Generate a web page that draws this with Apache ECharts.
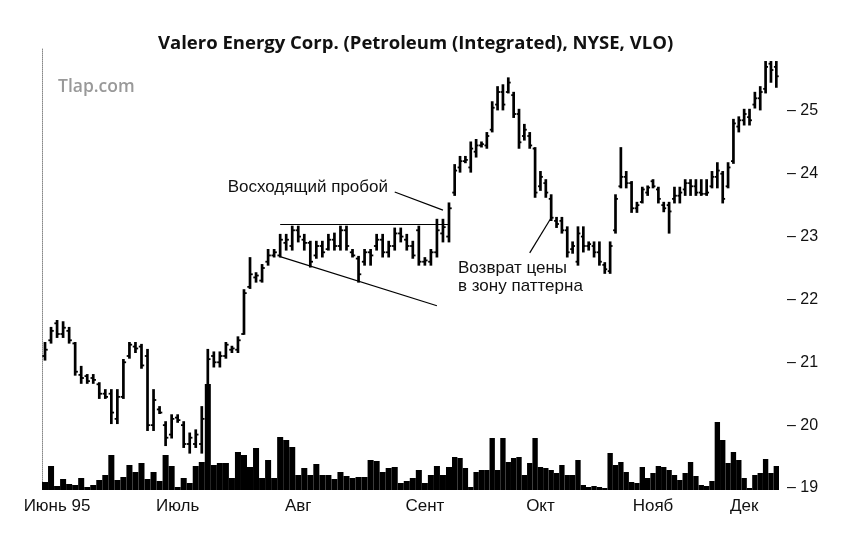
<!DOCTYPE html>
<html>
<head>
<meta charset="utf-8">
<title>Valero Energy Corp.</title>
<script src="https://cdn.jsdelivr.net/npm/echarts@6/dist/echarts.min.js"></script>
<style>
  html, body { margin: 0; padding: 0; background: #fff; }
  #chart { width: 862px; height: 534px; }
</style>
</head>
<body>
<div id="chart"></div>
<script>
// daily bars, June 1995 .. mid December 1995
var highs = [
  21.31, 21.55, 21.66, 21.64, 21.55, 21.31, 20.93, 20.80, 20.80, 20.67,
  20.56, 20.56, 20.56, 21.04, 21.31, 21.31, 21.28, 21.20, 20.56, 20.29,
  20.05, 20.16, 20.16, 20.05, 19.87, 19.92, 20.29, 21.20, 21.16, 21.16,
  21.31, 21.25, 21.40, 22.15, 22.66, 22.42, 22.55, 22.79, 22.79, 23.03,
  23.03, 23.16, 23.16, 23.03, 22.92, 22.92, 22.92, 23.03, 23.05, 23.16,
  23.16, 22.79, 22.68, 22.79, 22.79, 23.03, 23.03, 22.92, 23.13, 23.13,
  23.03, 22.92, 23.16, 22.66, 22.79, 23.27, 23.27, 23.53, 24.14, 24.27,
  24.27, 24.50, 24.54, 24.50, 24.65, 25.14, 25.38, 25.41, 25.52, 25.29,
  25.02, 24.78, 24.65, 24.41, 24.03, 23.90, 23.66, 23.30, 23.30, 23.15,
  22.91, 23.15, 23.15, 22.91, 22.91, 22.91, 22.58, 22.91, 23.66, 24.41,
  24.03, 23.87, 23.54, 23.78, 23.80, 23.90, 23.78, 23.54, 23.54, 23.78,
  23.78, 23.90, 23.90, 23.90, 23.90, 23.90, 24.03, 24.17, 24.03, 24.17,
  24.86, 24.90, 25.02, 25.02, 25.29, 25.38, 25.78, 25.78, 25.78
];
var lows = [
  21.04, 21.31, 21.40, 21.40, 21.31, 20.80, 20.67, 20.67, 20.67, 20.43,
  20.43, 20.03, 20.03, 20.43, 21.07, 21.16, 20.91, 19.92, 19.92, 20.19,
  19.68, 19.80, 20.05, 19.65, 19.56, 19.65, 19.56, 19.60, 20.93, 20.93,
  21.07, 21.16, 21.16, 21.45, 22.18, 22.28, 22.28, 22.55, 22.68, 22.68,
  22.79, 22.79, 22.92, 22.79, 22.52, 22.66, 22.68, 22.79, 22.79, 22.79,
  22.79, 22.68, 22.28, 22.55, 22.55, 22.79, 22.68, 22.68, 22.79, 22.92,
  22.79, 22.66, 22.55, 22.55, 22.55, 22.68, 22.92, 22.92, 23.66, 24.03,
  24.18, 24.03, 24.27, 24.43, 24.41, 24.67, 25.02, 25.02, 25.29, 24.90,
  24.41, 24.54, 24.41, 23.63, 23.74, 23.63, 23.26, 23.15, 23.06, 22.68,
  22.74, 22.55, 22.76, 22.79, 22.68, 22.55, 22.42, 22.42, 23.06, 23.78,
  23.78, 23.39, 23.39, 23.54, 23.66, 23.78, 23.54, 23.40, 23.06, 23.54,
  23.54, 23.66, 23.66, 23.66, 23.66, 23.66, 23.78, 23.78, 23.54, 23.78,
  24.17, 24.67, 24.78, 24.78, 25.05, 25.02, 25.29, 25.46, 25.38
];
var opens = [
  21.10, 21.35, 21.62, 21.45, 21.50, 21.30, 20.80, 20.78, 20.75, 20.65,
  20.50, 20.50, 20.10, 20.45, 21.10, 21.25, 21.25, 21.10, 20.00, 20.25,
  20.00, 19.85, 20.12, 20.00, 19.70, 19.70, 19.70, 19.80, 21.10, 21.00,
  21.10, 21.20, 21.20, 21.45, 22.20, 22.35, 22.30, 22.60, 22.70, 22.70,
  22.90, 22.85, 23.10, 22.95, 22.90, 22.70, 22.85, 22.80, 22.95, 22.85,
  23.10, 22.75, 22.65, 22.60, 22.75, 22.85, 22.95, 22.75, 22.85, 23.05,
  22.95, 22.85, 23.10, 22.60, 22.60, 22.75, 23.05, 23.00, 23.70, 24.10,
  24.20, 24.10, 24.35, 24.45, 24.45, 24.70, 25.10, 25.30, 25.30, 25.25,
  24.95, 24.60, 24.60, 24.40, 23.80, 23.85, 23.60, 23.25, 23.25, 23.10,
  22.80, 22.60, 23.00, 22.85, 22.85, 22.75, 22.55, 22.45, 23.10, 23.80,
  23.95, 23.85, 23.45, 23.55, 23.70, 23.88, 23.75, 23.50, 23.50, 23.60,
  23.65, 23.75, 23.85, 23.80, 23.70, 23.68, 23.80, 23.95, 24.00, 23.80,
  24.20, 24.75, 24.85, 24.90, 25.10, 25.20, 25.35, 25.75, 25.70
];
var closes = [
  21.20, 21.50, 21.45, 21.55, 21.35, 20.85, 20.75, 20.70, 20.72, 20.50,
  20.45, 20.20, 20.45, 21.00, 21.28, 21.22, 20.95, 20.00, 20.40, 20.20,
  19.80, 20.10, 20.08, 19.70, 19.80, 19.85, 20.10, 21.05, 21.00, 21.10,
  21.28, 21.22, 21.35, 22.10, 22.40, 22.38, 22.50, 22.70, 22.75, 22.95,
  22.95, 23.10, 23.00, 22.90, 22.60, 22.85, 22.75, 22.95, 22.85, 23.10,
  22.85, 22.70, 22.40, 22.75, 22.70, 22.95, 22.75, 22.85, 23.05, 23.00,
  22.85, 22.70, 22.60, 22.62, 22.75, 23.10, 23.15, 23.45, 24.05, 24.20,
  24.22, 24.40, 24.45, 24.47, 24.60, 25.05, 25.30, 25.10, 25.45, 24.95,
  24.50, 24.70, 24.45, 23.70, 23.95, 23.70, 23.30, 23.20, 23.10, 22.75,
  22.85, 23.05, 22.85, 22.88, 22.75, 22.60, 22.48, 22.85, 23.60, 23.95,
  23.85, 23.45, 23.50, 23.75, 23.78, 23.80, 23.60, 23.45, 23.40, 23.65,
  23.70, 23.85, 23.80, 23.70, 23.68, 23.70, 23.95, 24.05, 23.60, 24.10,
  24.80, 24.85, 24.95, 24.85, 25.20, 25.30, 25.70, 25.65, 25.55
];
// volume, relative units
var volumes = [
  8, 24, 4, 11, 6, 5, 12, 3, 5, 10,
  15, 35, 10, 13, 25, 18, 27, 11, 18, 9,
  35, 24, 3, 12, 7, 24, 28, 106, 25, 27,
  27, 12, 38, 35, 23, 42, 12, 30, 12, 53,
  50, 43, 15, 22, 15, 26, 15, 15, 11, 18,
  14, 12, 13, 13, 30, 29, 18, 22, 23, 7,
  9, 12, 20, 7, 15, 24, 15, 23, 33, 32,
  22, 3, 18, 20, 20, 52, 20, 52, 28, 32,
  33, 15, 27, 52, 23, 22, 20, 17, 25, 15,
  15, 30, 5, 3, 4, 3, 2, 37, 25, 28,
  18, 8, 7, 23, 12, 17, 24, 23, 20, 15,
  10, 17, 28, 14, 5, 4, 9, 68, 50, 27,
  38, 30, 12, 2, 15, 17, 31, 17, 24
];
var monthLabels = { 2: 'Июнь 95', 22: 'Июль', 42: 'Авг', 63: 'Сент', 84: 'Окт', 105: 'Нояб', 122: 'Дек' };
var priceTicks = [19, 20, 21, 22, 23, 24, 25];

// the source picture squeezes the bars after the breakout, so it is drawn on two axes
var split = 68;

var days = highs.map(function (v, i) { return String(i); });
var ohlc = highs.map(function (h, i) { return [String(i), opens[i], closes[i], lows[i], h]; });

var FONT = 'Liberation Sans, Arial, sans-serif';

function ohlcBar(params, api) {
  var x = api.value(0);
  var o = api.coord([x, api.value(1)]);
  var c = api.coord([x, api.value(2)]);
  var l = api.coord([x, api.value(3)]);
  var h = api.coord([x, api.value(4)]);
  var w = api.size([1, 0])[0] * 0.45;
  return {
    type: 'group',
    children: [
      { type: 'line', shape: { x1: h[0], y1: h[1] - 0.8, x2: l[0], y2: l[1] + 0.8 },
        style: { stroke: '#000', lineWidth: 2.7 } },
      { type: 'line', shape: { x1: o[0] - w, y1: o[1], x2: o[0], y2: o[1] },
        style: { stroke: '#000', lineWidth: 1.8 } },
      { type: 'line', shape: { x1: c[0], y1: c[1], x2: c[0] + w, y2: c[1] },
        style: { stroke: '#000', lineWidth: 1.8 } }
    ]
  };
}

function monthAxis(cats) {
  return {
    type: 'category', data: cats, boundaryGap: true,
    axisLine: { show: false }, axisTick: { show: false }, splitLine: { show: false },
    axisLabel: {
      interval: function (i, v) { return monthLabels[v] != null; },
      formatter: function (v) { return monthLabels[v] || ''; },
      margin: 8, fontSize: 17, color: '#111', fontFamily: FONT
    }
  };
}

function hiddenCat(cats) {
  return { type: 'category', data: cats, boundaryGap: true, show: false };
}

var lineStyle = { color: '#000', width: 1.2, type: 'solid' };
function seg(a, b) { return [{ coord: a }, { coord: b }]; }

var chart = echarts.init(document.getElementById('chart'));
chart.setOption({
  animation: false,
  backgroundColor: '#fff',
  title: {
    text: 'Valero Energy Corp. (Petroleum (Integrated), NYSE, VLO)',
    left: 153, top: 29,
    textStyle: { fontSize: 18.5, fontWeight: 'bold', color: '#111', fontFamily: 'Open Sans' }
  },
  grid: [
    { left: 42, width: 410, top: 48, height: 440 },
    { left: 452, width: 327, top: 48, height: 440 },
    { left: 42, width: 410, top: 380, height: 110 },
    { left: 452, width: 327, top: 380, height: 110 }
  ],
  xAxis: [
    hiddenCat(days.slice(0, split)),
    Object.assign(hiddenCat(days.slice(split)), { gridIndex: 1 }),
    Object.assign(monthAxis(days.slice(0, split)), { gridIndex: 2 }),
    Object.assign(monthAxis(days.slice(split)), { gridIndex: 3 })
  ],
  yAxis: [
    { type: 'value', gridIndex: 0, min: 19, max: 26, interval: 1, position: 'left',
      axisLine: { show: true, lineStyle: { color: '#888', type: 'dotted', width: 1 } },
      axisTick: { show: false }, axisLabel: { show: false }, splitLine: { show: false } },
    { type: 'value', gridIndex: 1, min: 19, max: 26, interval: 1, position: 'right',
      axisLine: { show: false }, axisTick: { show: false }, splitLine: { show: false },
      axisLabel: {
        margin: 8, fontSize: 16, color: '#111', fontFamily: FONT,
        formatter: function (v) { return priceTicks.indexOf(v) >= 0 ? '\u2013 ' + v : ''; }
      } },
    { type: 'value', gridIndex: 2, min: 0, max: 110, show: false },
    { type: 'value', gridIndex: 3, min: 0, max: 110, show: false }
  ],
  series: [
    { type: 'bar', xAxisIndex: 2, yAxisIndex: 2, data: volumes.slice(0, split),
      barCategoryGap: '0%', itemStyle: { color: '#000' }, silent: true },
    { type: 'bar', xAxisIndex: 3, yAxisIndex: 3, data: volumes.slice(split),
      barCategoryGap: '0%', itemStyle: { color: '#000' }, silent: true },
    { type: 'custom', xAxisIndex: 0, yAxisIndex: 0, renderItem: ohlcBar,
      encode: { x: 0, y: [1, 2, 3, 4] }, data: ohlc.slice(0, split),
      markLine: {
        silent: true, symbol: ['none', 'none'], label: { show: false }, lineStyle: lineStyle,
        data: [
          seg(['39', 23.2], ['67', 23.2]),     // top of the pattern
          seg(['39', 22.68], ['65', 21.90]),   // falling bottom line
          seg(['58', 23.71], ['66', 23.42])    // pointer to the breakout
        ]
      } },
    { type: 'custom', xAxisIndex: 1, yAxisIndex: 1, renderItem: ohlcBar,
      encode: { x: 0, y: [1, 2, 3, 4] }, data: ohlc.slice(split),
      markLine: {
        silent: true, symbol: ['none', 'none'], label: { show: false }, lineStyle: lineStyle,
        data: [ seg(['82', 22.74], ['86', 23.30]) ]  // pointer to the pullback
      } }
  ],
  graphic: [
    { type: 'text', left: 58, top: 78,
      style: { text: 'Tlap.com', fontSize: 17.5, fontWeight: 600, fill: '#999', fontFamily: 'Open Sans' } },
    { type: 'text', x: 388, y: 187,
      style: { text: 'Восходящий пробой', fontSize: 17, fill: '#111', fontFamily: FONT,
               textAlign: 'right', textVerticalAlign: 'middle' } },
    { type: 'text', x: 458, y: 268,
      style: { text: 'Возврат цены', fontSize: 17, fill: '#111', fontFamily: FONT,
               textVerticalAlign: 'middle' } },
    { type: 'text', x: 458, y: 286,
      style: { text: 'в зону паттерна', fontSize: 17, fill: '#111', fontFamily: FONT,
               textVerticalAlign: 'middle' } }
  ]
});
</script>
</body>
</html>
